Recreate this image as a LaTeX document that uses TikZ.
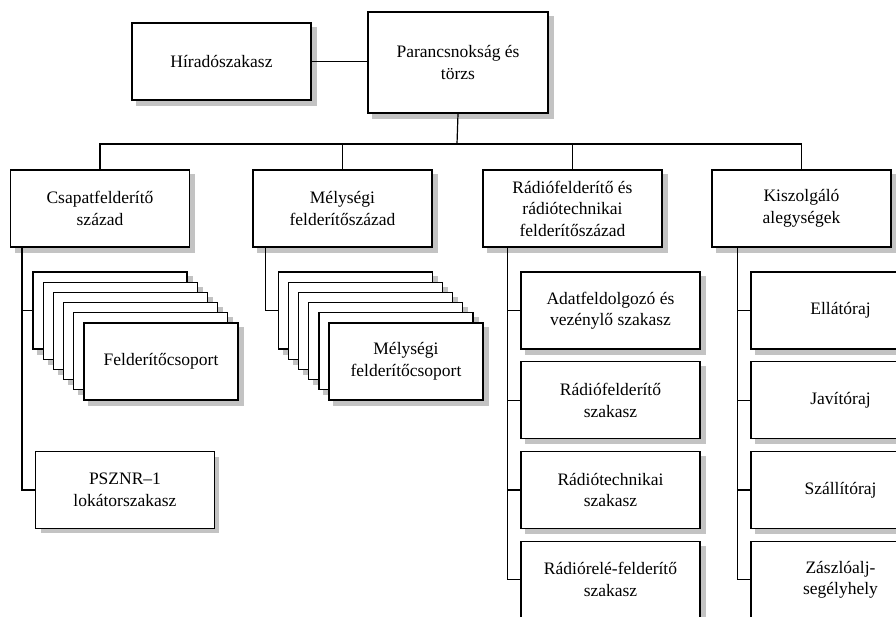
\documentclass[tikz,border=0pt]{standalone}
\usepackage{fontspec}
\setmainfont{Liberation Serif}
\usepackage{tikz}
\usetikzlibrary{calc,backgrounds}
\definecolor{shadowgray}{RGB}{195,195,195}

\begin{document}
\begin{tikzpicture}[x=1pt,y=-1pt,line width=1.2pt,
  every node/.style={font=\fontsize{17.5}{21.5}\selectfont},
  unit/.style={draw,shape=rectangle,fill=white,align=center,inner sep=0pt,
    minimum width=179pt,minimum height=77pt},
  group/.style={unit,minimum width=154pt}]

  \clip (0,0) rectangle (896,617);

  % Specification of nodes (position, etc.)
  \node[unit,minimum width=180pt,minimum height=101pt] (hq) at (458,62.5) {Parancsnokság és\\törzs};
  \node[unit] (hir) at (221.5,61.5) {Híradószakasz};

  \node[unit] (csf) at (100,208.5) {Csapatfelderítő\\század};
  \node[unit] (mfsz) at (342.5,208.5) {Mélységi\\felderítőszázad};
  \node[unit] (rfsz) at (572.5,208.5) {Rádiófelderítő és\\rádiótechnikai\\felderítőszázad};
  \node[unit] (kisz) at (801.5,208.5) {Kiszolgáló\\alegységek};

  % stacked groups
  \foreach \i in {0,...,4} {
    \node[group] (fcs\i) at (110+10.2*\i,310.5+10.2*\i) {};
    \node[group] (mfcs\i) at (355.5+10.1*\i,310.5+10.2*\i) {};
  }
  \node[group] (fcs5) at (161,361.5) {Felderítőcsoport};
  \node[group] (mfcs5) at (406,361.5) {Mélységi\\felderítőcsoport};
  \fill[shadowgray] (41,457) rectangle (219,533);
  \node[unit] (lok) at (125,490) {PSZNR--1\\lokátorszakasz};

  \node[unit] (adat) at (610.5,310.5) {Adatfeldolgozó és\\vezénylő szakasz};
  \node[unit] (rfsk) at (610.5,400.2) {Rádiófelderítő\\szakasz};
  \node[unit] (rtsk) at (610.5,489.9) {Rádiótechnikai\\szakasz};
  \node[unit] (rrsk) at (610.5,579.6) {Rádiórelé-felderítő\\szakasz};

  \node[unit] (ell) at (840.5,310.5) {Ellátóraj};
  \node[unit] (jav) at (840.5,400.2) {Javítóraj};
  \node[unit] (szal) at (840.5,489.9) {Szállítóraj};
  \node[unit] (zsh) at (840.5,579.6) {Zászlóalj-\\segélyhely};

  % shadows
  \begin{scope}[on background layer]
    \foreach \n in {hq,hir,csf,mfsz,rfsz,kisz,fcs0,fcs1,fcs2,fcs3,fcs4,fcs5,mfcs0,mfcs1,mfcs2,mfcs3,mfcs4,mfcs5,adat,rfsk,rtsk,rrsk,ell,jav,szal,zsh}
      \fill[shadowgray] ($(\n.south west)+(5,5)$) rectangle ($(\n.north east)+(5,5)$);
  \end{scope}

  \coordinate (bus) at (457,144);
  \coordinate (csft) at ($(csf.south west)+(12,0)$);
  \coordinate (mfszt) at ($(mfsz.south west)+(13,0)$);
  \coordinate (rfszt) at ($(rfsz.south west)+(25,0)$);
  \coordinate (kiszt) at ($(kisz.south west)+(26,0)$);

  \begin{scope}[-]
    \draw (hir.east) -- (hir.east -| hq.west);
    \draw (hq.south) -- (bus);
    \draw (csf.north) |- (bus);
    \draw (mfsz.north) |- (bus);
    \draw (rfsz.north) |- (bus);
    \draw (kisz.north) |- (bus);
    \draw (csft) |- (fcs0.west);
    \draw (csft) |- (lok.west);
    \draw (mfszt) |- (mfcs0.west);
    \draw (rfszt) |- (adat.west);
    \draw (rfszt) |- (rfsk.west);
    \draw (rfszt) |- (rtsk.west);
    \draw (rfszt) |- (rrsk.west);
    \draw (kiszt) |- (ell.west);
    \draw (kiszt) |- (jav.west);
    \draw (kiszt) |- (szal.west);
    \draw (kiszt) |- (zsh.west);
  \end{scope}

\end{tikzpicture}
\end{document}
